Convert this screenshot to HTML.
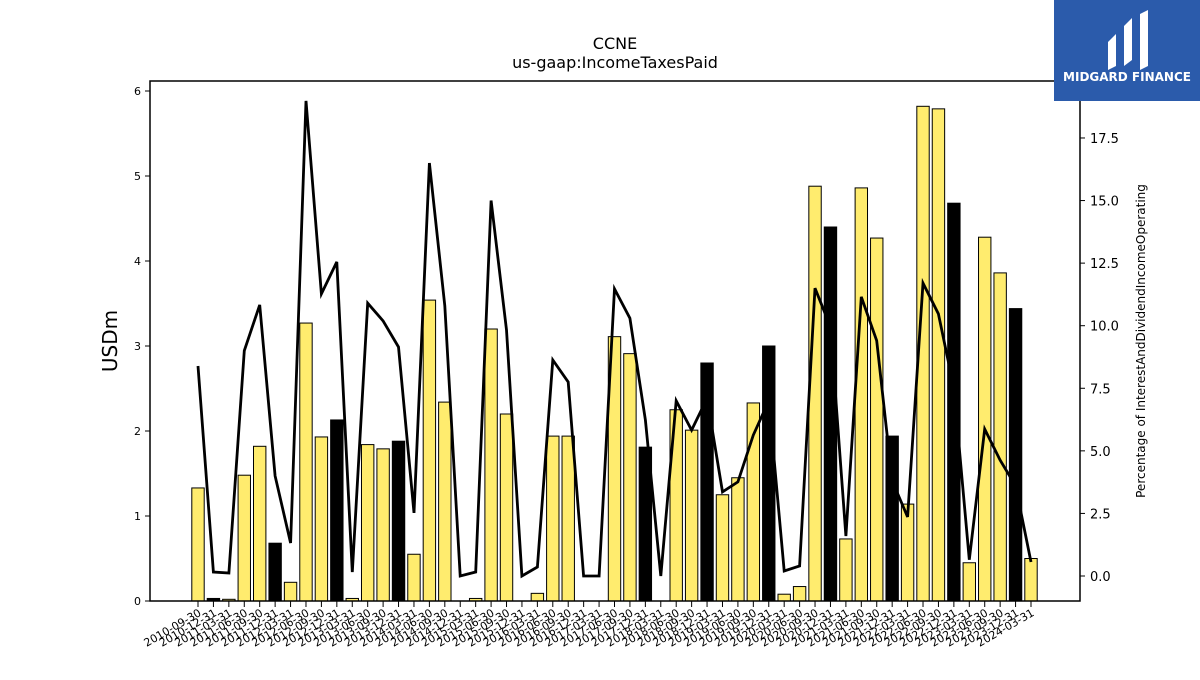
<!DOCTYPE html>
<html><head><meta charset="utf-8"><style>
body{margin:0;background:#fff;width:1200px;height:675px;overflow:hidden;font-family:"Liberation Sans","DejaVu Sans",sans-serif}
</style></head><body>
<svg id="chart" width="1200" height="675" xmlns="http://www.w3.org/2000/svg" font-family="DejaVu Sans, Liberation Sans, sans-serif">
<text x="615" y="49" font-size="16" text-anchor="middle">CCNE</text>
<text x="615" y="68" font-size="16" text-anchor="middle">us-gaap:IncomeTaxesPaid</text>
<g id="bars"></g>
<g id="line"></g>
<g id="axes"></g>
<text transform="translate(117,341) rotate(-90)" font-size="20" text-anchor="middle">USDm</text>
<text transform="translate(1145,341) rotate(-90)" font-size="12" text-anchor="middle">Percentage of InterestAndDividendIncomeOperating</text>
<g>
<rect x="1054" y="0" width="146" height="101" fill="#2b5bab"/>
<path d="M1108 42 L1116 34 L1116 66 L1108 70 Z M1124 26 L1132 18 L1132 60 L1124 66 Z M1140 14 L1148 10 L1148 66 L1140 70 Z" fill="#fff"/>
<text x="1127" y="81" font-size="12" font-weight="bold" fill="#fff" text-anchor="middle">MIDGARD FINANCE</text>
</g>
</svg>
<script>
const categories=["2010-09-30","2010-12-31","2011-03-31","2011-06-30","2011-09-30","2011-12-31","2012-03-31","2012-06-30","2012-09-30","2012-12-31","2013-03-31","2013-06-30","2013-09-30","2013-12-31","2014-03-31","2014-06-30","2014-09-30","2014-12-31","2015-03-31","2015-06-30","2015-09-30","2015-12-31","2016-03-31","2016-06-30","2016-09-30","2016-12-31","2017-03-31","2017-06-30","2017-09-30","2017-12-31","2018-03-31","2018-06-30","2018-09-30","2018-12-31","2019-03-31","2019-06-30","2019-09-30","2019-12-31","2020-03-31","2020-06-30","2020-09-30","2020-12-31","2021-03-31","2021-06-30","2021-09-30","2021-12-31","2022-03-31","2022-06-30","2022-09-30","2022-12-31","2023-03-31","2023-06-30","2023-09-30","2023-12-31","2024-03-31"];
const taxesPaid=[1.33,0.03,0.02,1.48,1.82,0.68,0.22,3.27,1.93,2.13,0.03,1.84,1.79,1.88,0.55,3.54,2.34,0,0.03,3.20,2.20,0,0.09,1.94,1.94,0,0,3.11,2.91,1.81,0,2.25,2.01,2.80,1.25,1.45,2.33,3.00,0.08,0.17,4.88,4.40,0.73,4.86,4.27,1.94,1.14,5.82,5.79,4.68,0.45,4.28,3.86,3.44,0.50];
const percentOfIncome=[8.39,0.16,0.12,9.0,10.83,4.0,1.32,18.98,11.27,12.55,0.16,10.9,10.19,9.15,2.52,16.5,10.8,0,0.16,15.0,9.83,0,0.36,8.63,7.75,0,0,11.47,10.3,6.23,0,7.0,5.83,7.1,3.36,3.76,5.63,7.0,0.2,0.4,11.5,9.95,1.6,11.15,9.4,3.8,2.36,11.7,10.47,7.5,0.65,5.87,4.63,3.6,0.56];
const leftTicks=[0,1,2,3,4,5,6];
const rightTicks=[0,2.5,5,7.5,10,12.5,15,17.5];
const NS="http://www.w3.org/2000/svg";
const L=150,R=1080,T=81,B=601;
const yL=v=>601-v*85;
const yR=v=>576-v*25.03;
const xS=i=>198+i*(1031-198)/(categories.length-1);
function mk(tag,attrs,parent){const e=document.createElementNS(NS,tag);for(const k in attrs)e.setAttribute(k,attrs[k]);parent.appendChild(e);return e;}
const gb=document.getElementById('bars'),gl=document.getElementById('line'),ga=document.getElementById('axes');
const bw=12.4;
categories.forEach((c,i)=>{
  const v=taxesPaid[i];
  const annual=c.endsWith("12-31");
  const r=mk('rect',{x:xS(i)-bw/2,y:yL(v),width:bw,height:Math.max(0,yL(0)-yL(v)),fill:annual?'#000':'#ffec6e',stroke:'#000','stroke-width':1},gb);
  
  
});
const pts=percentOfIncome.map((v,i)=>xS(i).toFixed(1)+','+yR(v).toFixed(1)).join(' ');
const pl=mk('polyline',{points:pts,fill:'none',stroke:'#000','stroke-width':2.8,'stroke-linejoin':'miter'},gl);


const fr=mk('rect',{x:L,y:T,width:R-L,height:B-T,fill:'none',stroke:'#000','stroke-width':1.5},ga);


leftTicks.forEach(t=>{
  mk('line',{x1:L-5,x2:L,y1:yL(t),y2:yL(t),stroke:'#000'},ga);
  const tx=mk('text',{x:L-9,y:yL(t)+4,'font-size':11,'text-anchor':'end'},ga);tx.textContent=t;
  
  
});
rightTicks.forEach(t=>{
  mk('line',{x1:R,x2:R+5,y1:yR(t),y2:yR(t),stroke:'#000'},ga);
  const tx=mk('text',{x:R+10,y:yR(t)+5,'font-size':13},ga);tx.textContent=t.toFixed(1);
  
  
});
categories.forEach((c,i)=>{
  const x=xS(i);
  mk('line',{x1:x,x2:x,y1:B,y2:B+6,stroke:'#000'},ga);
  const tx=mk('text',{transform:`translate(${x+4},${B+14}) rotate(-30)`,'font-size':11,'text-anchor':'end'},ga);tx.textContent=c;
  
  
});
</script>
</body></html>
